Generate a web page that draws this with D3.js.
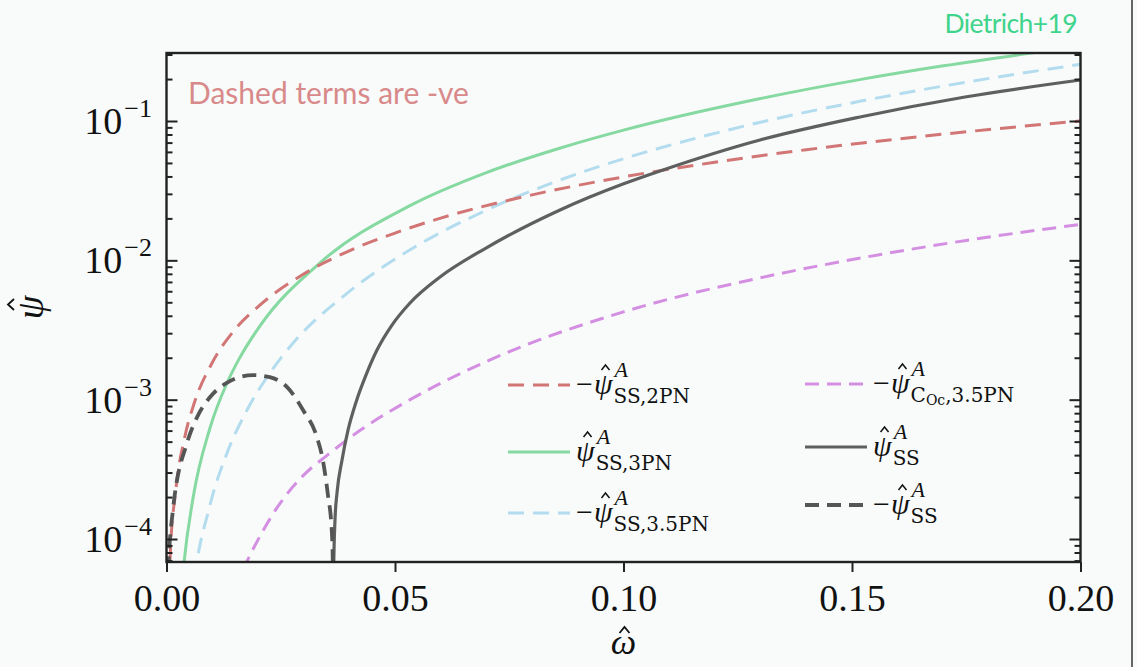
<!DOCTYPE html>
<html>
<head>
<meta charset="utf-8">
<script src="https://cdn.jsdelivr.net/npm/d3@7"></script>
<style>
  html, body { margin: 0; padding: 0; background: #f8fbfa; }
  svg { display: block; }
</style>
</head>
<body>
<svg id="chart" width="1137" height="667"></svg>
<script>
// Frequency axis ticks and log-axis decades
const omegaTicks = [0, 0.05, 0.10, 0.15, 0.20];
const psiDecades = [1e-4, 1e-3, 1e-2, 1e-1];
const decadeExponents = ["−4", "−3", "−2", "−1"];
const omegaDomain = [0, 0.2];
const psiDomain = [6.84e-5, 0.3076];

// Spin-spin phase contributions, [omega, |psi|]
const ss2PN = [[0.0004,3.0e-5],[0.0008,7.5e-5],[0.002,2.2e-4],[0.004,5.4e-4],[0.006,9.3e-4],[0.01,1.84e-3],[0.015,3.2e-3],[0.02,4.64e-3],[0.03,7.97e-3],[0.04,0.0117],[0.05,0.0157],[0.06,0.0201],[0.08,0.0295],[0.1,0.0397],[0.12,0.0506],[0.14,0.0622],[0.16,0.0743],[0.18,0.0869],[0.2,0.100]];
const ss3PN = [[0.0030,3.2e-5],[0.0037,6.1e-5],[0.0058,1.96e-4],[0.0095,6.24e-4],[0.0133,1.33e-3],[0.0161,2.02e-3],[0.0205,3.4e-3],[0.0336,9.6e-3],[0.0533,0.0247],[0.07,0.0426],[0.0862,0.0640],[0.1,0.086],[0.13,0.145],[0.152,0.199],[0.17,0.249],[0.19,0.310],[0.2,0.344]];
const ss35PN = [[0.0050,2.3e-5],[0.0058,4.2e-5],[0.0095,1.74e-4],[0.0132,4.1e-4],[0.0176,8.4e-4],[0.0226,1.55e-3],[0.0277,2.55e-3],[0.0395,5.8e-3],[0.0533,0.0119],[0.07,0.0229],[0.0861,0.0377],[0.1,0.0536],[0.108,0.064],[0.13,0.098],[0.152,0.139],[0.175,0.190],[0.2,0.255]];
const oc35PN = [[0.015,4.3e-5],[0.0165,5.8e-5],[0.0176,6.9e-5],[0.0242,1.68e-4],[0.0299,2.85e-4],[0.0352,4.0e-4],[0.0423,6.0e-4],[0.0533,1.0e-3],[0.0708,1.93e-3],[0.1,4.27e-3],[0.13,7.5e-3],[0.152,0.0104],[0.175,0.0139],[0.2,0.0181]];
// Total spin-spin phase: positive branch and the negated branch below the sign change
const ssTotalPos = [[0.03648,2.0e-5],[0.03654,5.0e-5],[0.03687,1.37e-4],[0.03731,2.14e-4],[0.0384,3.68e-4],[0.03972,6.05e-4],[0.04147,9.6e-4],[0.04365,1.50e-3],[0.04606,2.27e-3],[0.04934,3.43e-3],[0.05328,4.94e-3],[0.05985,7.59e-3],[0.06991,0.01225],[0.08611,0.0230],[0.09989,0.0353],[0.108,0.0438],[0.12987,0.0731],[0.15175,0.1069],[0.17473,0.1487],[0.2,0.1968]];
const ssTotalNeg = [[0.0001,2.0e-5],[0.0004,6.0e-5],[0.0014,1.6e-4],[0.0045,4.9e-4],[0.0067,7.5e-4],[0.0095,1.04e-3],[0.0132,1.32e-3],[0.0189,1.50e-3],[0.0226,1.45e-3],[0.0264,1.23e-3],[0.0299,8.4e-4],[0.0329,5.4e-4],[0.0342,3.7e-4],[0.0353,2.1e-4],[0.0362,1.1e-4],[0.03645,5.0e-5],[0.03648,2.0e-5]];

const W = 1137, H = 667;
const margin = { left: 166.5, right: 1080.5, top: 53, bottom: 562 };
const serif = "Liberation Serif, serif";
const ink = "#111";

const svg = d3.select("#chart");
svg.append("rect").attr("width", W).attr("height", H).attr("fill", "#f8fbfa");

const x = d3.scaleLinear().domain(omegaDomain).range([margin.left, margin.right]);
const y = d3.scaleLog().domain(psiDomain).range([margin.bottom, margin.top]);

svg.append("defs").append("clipPath").attr("id", "plotClip")
  .append("rect")
  .attr("x", margin.left).attr("y", margin.top)
  .attr("width", margin.right - margin.left).attr("height", margin.bottom - margin.top);

const line = d3.line()
  .x(d => x(d[0]))
  .y(d => y(d[1]))
  .curve(d3.curveMonotoneX);

const styles = {
  ss2PN:  { color: "#d27575", dash: "16,9", width: 3 },
  ss3PN:  { color: "#86d9a0", dash: null,   width: 3 },
  ss35PN: { color: "#b3dcef", dash: "16,9", width: 3 },
  oc35PN: { color: "#d48fe2", dash: "14,8", width: 3 },
  pos:    { color: "#5f5f5f", dash: null,   width: 3.2 },
  neg:    { color: "#555555", dash: "14,8", width: 3.8 }
};

const series = [
  { data: ss3PN,      st: styles.ss3PN },
  { data: ss35PN,     st: styles.ss35PN },
  { data: ss2PN,      st: styles.ss2PN },
  { data: oc35PN,     st: styles.oc35PN },
  { data: ssTotalPos, st: styles.pos },
  { data: ssTotalNeg, st: styles.neg }
];

const plot = svg.append("g").attr("clip-path", "url(#plotClip)");
series.forEach(s => {
  plot.append("path")
    .attr("d", line(s.data))
    .attr("fill", "none")
    .attr("stroke", s.st.color)
    .attr("stroke-width", s.st.width)
    .attr("stroke-dasharray", s.st.dash);
});

// Minor log ticks 2..9 in each decade
const minorTicks = [];
[1e-5, 1e-4, 1e-3, 1e-2, 1e-1].forEach(d => {
  for (let k = 2; k <= 9; k++) {
    const v = d * k;
    if (v > psiDomain[0] && v < psiDomain[1]) minorTicks.push(v);
  }
});

function styleAxis(g) {
  g.select(".domain").remove();
  g.selectAll("line").attr("stroke", "#222").attr("stroke-width", 2);
}

svg.append("g").attr("transform", `translate(${margin.left},0)`)
  .call(d3.axisLeft(y).tickValues(psiDecades).tickSize(-11).tickFormat(""))
  .call(styleAxis);
svg.append("g").attr("transform", `translate(${margin.left},0)`)
  .call(d3.axisLeft(y).tickValues(minorTicks).tickSize(-6).tickFormat(""))
  .call(styleAxis);
svg.append("g").attr("transform", `translate(${margin.right},0)`)
  .call(d3.axisRight(y).tickValues(psiDecades).tickSize(-11).tickFormat(""))
  .call(styleAxis);
svg.append("g").attr("transform", `translate(${margin.right},0)`)
  .call(d3.axisRight(y).tickValues(minorTicks).tickSize(-6).tickFormat(""))
  .call(styleAxis);

const xAxis = svg.append("g").attr("transform", `translate(0,${margin.bottom})`)
  .call(d3.axisBottom(x).tickValues(omegaTicks).tickSize(10).tickPadding(12).tickFormat(d3.format(".2f")))
  .call(styleAxis);
xAxis.selectAll("text")
  .attr("font-family", serif)
  .attr("font-size", 38)
  .attr("fill", ink)
  .attr("dy", "0.71em");

// Frame
svg.append("rect")
  .attr("x", margin.left).attr("y", margin.top)
  .attr("width", margin.right - margin.left).attr("height", margin.bottom - margin.top)
  .attr("fill", "none").attr("stroke", "#222").attr("stroke-width", 2.4);

// Decade labels 10^n
psiDecades.forEach((v, i) => {
  const t = svg.append("text")
    .attr("x", 152).attr("y", y(v) + 13)
    .attr("text-anchor", "end")
    .attr("font-family", serif)
    .attr("fill", ink);
  t.append("tspan").attr("font-size", 38).text("10");
  t.append("tspan").attr("font-size", 26).attr("dx", 2).attr("dy", -17).text(decadeExponents[i]);
});

// Circumflex accent drawn over a glyph
function hat(parent, cx, cy, w, h, sw) {
  parent.append("path")
    .attr("d", `M${cx - w / 2},${cy} L${cx},${cy - h} L${cx + w / 2},${cy}`)
    .attr("fill", "none").attr("stroke", ink).attr("stroke-width", sw)
    .attr("stroke-linejoin", "miter");
}

// Axis titles
svg.append("text")
  .attr("x", (margin.left + margin.right) / 2).attr("y", 654)
  .attr("text-anchor", "middle")
  .attr("font-family", serif).attr("font-style", "italic")
  .attr("font-size", 36).attr("fill", ink)
  .text("ω");
hat(svg, (margin.left + margin.right) / 2 + 1, 633, 10, 6, 1.8);

const yt = svg.append("g").attr("transform", `translate(43,${(margin.top + margin.bottom) / 2}) rotate(-90)`);
yt.append("text")
  .attr("text-anchor", "middle")
  .attr("font-family", serif).attr("font-style", "italic")
  .attr("font-size", 38).attr("fill", ink)
  .text("ψ");
hat(yt, 3, -29, 11, 6, 1.8);

// Annotations
svg.append("text")
  .attr("x", 188).attr("y", 104)
  .attr("font-family", "Lato, sans-serif")
  .attr("font-size", 30).attr("fill", "#d88a8a")
  .text("Dashed terms are -ve");
svg.append("text")
  .attr("x", 1077).attr("y", 33)
  .attr("text-anchor", "end")
  .attr("font-family", "Lato, sans-serif")
  .attr("font-size", 26.5).attr("letter-spacing", -0.6).attr("fill", "#3fd48c")
  .text("Dietrich+19");

// Slide edge
svg.append("line")
  .attr("x1", 1132).attr("x2", 1132).attr("y1", 0).attr("y2", H)
  .attr("stroke", "#666").attr("stroke-width", 2);

// Legend
const legendItems = [
  { col: 0, row: 0, st: styles.ss2PN,  minus: true,  sub: "SS,2PN" },
  { col: 0, row: 1, st: styles.ss3PN,  minus: false, sub: "SS,3PN" },
  { col: 0, row: 2, st: styles.ss35PN, minus: true,  sub: "SS,3.5PN" },
  { col: 1, row: 0, st: styles.oc35PN, minus: true,  sub: "C", subSmall: "Oc", subTail: ",3.5PN" },
  { col: 1, row: 1, st: styles.pos,    minus: false, sub: "SS" },
  { col: 1, row: 2, st: styles.neg,    minus: true,  sub: "SS" }
];
const colX = [508, 805];
const rowY = [[385, 452, 513], [384, 447, 505]];
const subFont = "DejaVu Serif, serif";
legendItems.forEach(it => {
  const lx = colX[it.col], ly = rowY[it.col][it.row];
  svg.append("line")
    .attr("x1", lx).attr("x2", lx + 62).attr("y1", ly).attr("y2", ly)
    .attr("stroke", it.st.color).attr("stroke-width", Math.max(3.2, it.st.width))
    .attr("stroke-dasharray", it.st.dash);
  let cx = lx + 68;
  const base = ly + 9;
  if (it.minus) {
    const m = svg.append("text")
      .attr("x", cx).attr("y", base)
      .attr("font-family", serif).attr("font-size", 30).attr("fill", ink)
      .text("−");
    cx += m.node().getComputedTextLength() + 1;
  }
  const p = svg.append("text")
    .attr("x", cx).attr("y", base)
    .attr("font-family", serif).attr("font-style", "italic")
    .attr("font-size", 30).attr("fill", ink)
    .text("ψ");
  const pw = p.node().getComputedTextLength();
  hat(svg, cx + pw * 0.62, base - 24, 8, 5, 1.5);
  const end = cx + pw + 2;
  svg.append("text")
    .attr("x", end).attr("y", ly - 8)
    .attr("font-family", serif).attr("font-style", "italic")
    .attr("font-size", 22).attr("fill", ink)
    .text("A");
  const sub = svg.append("text")
    .attr("x", end - 1).attr("y", ly + 18)
    .attr("font-family", subFont).attr("font-size", 20).attr("fill", ink);
  sub.append("tspan").text(it.sub);
  if (it.subSmall) {
    sub.append("tspan").attr("font-size", 14).attr("dy", 3).text(it.subSmall);
    sub.append("tspan").attr("font-size", 20).attr("dy", -3).text(it.subTail);
  }
});
</script>
</body>
</html>
